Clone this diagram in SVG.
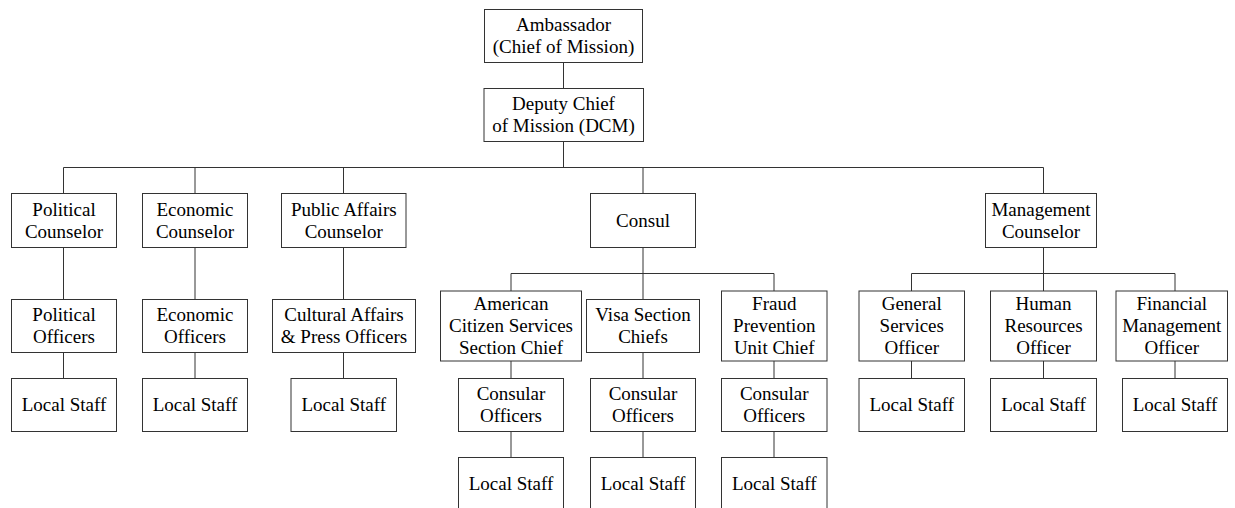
<svg xmlns="http://www.w3.org/2000/svg" width="1235" height="508" viewBox="0 0 1235 508">
<style>
rect{fill:#fff;stroke:#333;stroke-width:1}
text{font-family:serif;font-size:19px;fill:#000;text-anchor:middle}
#connectors path{fill:none;stroke:#333;stroke-width:1}
</style>
<rect x="0" y="0" width="1235" height="508" style="stroke:none"/>
<g id="connectors">
<path d="M563.5 62.5V88.5M563.5 141.5V167.5M63.5 167.5H1043.5M63.5 167.5V193.5M195 167.5V193.5M343.5 167.5V193.5M643 167.5V193.5M1043.5 167.5V193.5"/>
<path d="M63.5 247.5V299.5M63.5 352.5V378.5M195 247.5V299.5M195 352.5V378.5M343.5 247.5V299.5M343.5 352.5V378.5"/>
<path d="M643 247.5V273.5M511 273.5H774M511 273.5V291M643 273.5V299.5M774 273.5V291M511 361V378.5M643 352.5V378.5M774 361V378.5M511 431.5V457.5M643 431.5V457.5M774 431.5V457.5"/>
<path d="M1043.5 247.5V273.5M911.5 273.5H1175M911.5 273.5V291M1043.5 273.5V291M1175 273.5V291M911.5 361V378.5M1043.5 361V378.5M1175 361V378.5"/>
</g>
<g id="amb"><rect x="484.5" y="9.5" width="158" height="53"/><text x="563.5" y="30.5">Ambassador</text><text x="563.5" y="52.5">(Chief of Mission)</text></g>
<g id="dcm"><rect x="484" y="88.5" width="159.5" height="53"/><text x="563.5" y="109.5">Deputy Chief</text><text x="563.5" y="131.5">of Mission (DCM)</text></g>
<g id="pol"><rect x="11.5" y="193.5" width="105" height="54"/><text x="64" y="215.5">Political</text><text x="64" y="237.5">Counselor</text></g>
<g id="eco"><rect x="142.5" y="193.5" width="105" height="54"/><text x="195" y="215.5">Economic</text><text x="195" y="237.5">Counselor</text></g>
<g id="pub"><rect x="281.5" y="193.5" width="124.5" height="54"/><text x="343.75" y="215.5">Public Affairs</text><text x="343.75" y="237.5">Counselor</text></g>
<g id="consul"><rect x="590.5" y="193.5" width="105" height="54"/><text x="643" y="226.5">Consul</text></g>
<g id="mgmt"><rect x="985.5" y="193.5" width="111" height="54"/><text x="1041" y="215.5">Management</text><text x="1041" y="237.5">Counselor</text></g>
<g id="polo"><rect x="11.5" y="299.5" width="105" height="53"/><text x="64" y="321">Political</text><text x="64" y="343">Officers</text></g>
<g id="ecoo"><rect x="142.5" y="299.5" width="105" height="53"/><text x="195" y="321">Economic</text><text x="195" y="343">Officers</text></g>
<g id="cult"><rect x="272.5" y="299.5" width="143" height="53"/><text x="344" y="321">Cultural Affairs</text><text x="344" y="343">&amp; Press Officers</text></g>
<g id="acs"><rect x="440.5" y="291" width="141" height="70"/><text x="511" y="310">American</text><text x="511" y="332">Citizen Services</text><text x="511" y="354">Section Chief</text></g>
<g id="visa"><rect x="586.5" y="299.5" width="113" height="53"/><text x="643" y="321">Visa Section</text><text x="643" y="343">Chiefs</text></g>
<g id="fraud"><rect x="721.5" y="291" width="105.5" height="70"/><text x="774.25" y="310">Fraud</text><text x="774.25" y="332">Prevention</text><text x="774.25" y="354">Unit Chief</text></g>
<g id="gso"><rect x="859" y="291" width="105.5" height="70"/><text x="911.75" y="310">General</text><text x="911.75" y="332">Services</text><text x="911.75" y="354">Officer</text></g>
<g id="hro"><rect x="990.5" y="291" width="106" height="70"/><text x="1043.5" y="310">Human</text><text x="1043.5" y="332">Resources</text><text x="1043.5" y="354">Officer</text></g>
<g id="fmo"><rect x="1116" y="291" width="111.5" height="70"/><text x="1171.75" y="310">Financial</text><text x="1171.75" y="332">Management</text><text x="1171.75" y="354">Officer</text></g>
<g id="ls1"><rect x="11.5" y="378.5" width="105" height="53"/><text x="64" y="411">Local Staff</text></g>
<g id="ls2"><rect x="142.5" y="378.5" width="105" height="53"/><text x="195" y="411">Local Staff</text></g>
<g id="ls3"><rect x="291" y="378.5" width="105.5" height="53"/><text x="343.75" y="411">Local Staff</text></g>
<g id="co1"><rect x="458.5" y="378.5" width="105" height="53"/><text x="511" y="400">Consular</text><text x="511" y="422">Officers</text></g>
<g id="co2"><rect x="590.5" y="378.5" width="105" height="53"/><text x="643" y="400">Consular</text><text x="643" y="422">Officers</text></g>
<g id="co3"><rect x="721.5" y="378.5" width="105.5" height="53"/><text x="774.25" y="400">Consular</text><text x="774.25" y="422">Officers</text></g>
<g id="ls7"><rect x="859" y="378.5" width="105.5" height="53"/><text x="911.75" y="411">Local Staff</text></g>
<g id="ls8"><rect x="990.5" y="378.5" width="106" height="53"/><text x="1043.5" y="411">Local Staff</text></g>
<g id="ls9"><rect x="1122.5" y="378.5" width="105" height="53"/><text x="1175" y="411">Local Staff</text></g>
<g id="ls4"><rect x="458.5" y="457.5" width="105" height="53"/><text x="511" y="490">Local Staff</text></g>
<g id="ls5"><rect x="590.5" y="457.5" width="105" height="53"/><text x="643" y="490">Local Staff</text></g>
<g id="ls6"><rect x="721.5" y="457.5" width="105.5" height="53"/><text x="774.25" y="490">Local Staff</text></g>
</svg>
